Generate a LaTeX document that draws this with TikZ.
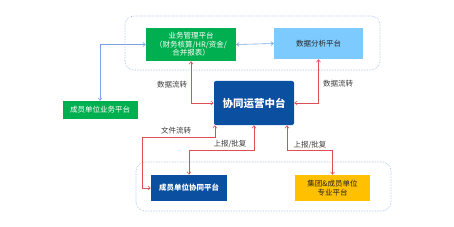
\documentclass[tikz,border=0pt]{standalone}
\usepackage{fontspec}
\setmainfont{Noto Sans CJK SC}
\usetikzlibrary{arrows.meta}
\definecolor{platgreen}{RGB}{0,176,80}
\definecolor{skyblue}{RGB}{125,202,255}
\definecolor{hubblue}{RGB}{10,79,160}
\definecolor{goldbox}{RGB}{255,192,0}
\definecolor{framblue}{RGB}{150,185,230}
\definecolor{linkblue}{RGB}{120,165,225}
\definecolor{flowred}{RGB}{220,80,85}
\definecolor{lbltext}{RGB}{60,60,60}

\begin{document}
\begin{tikzpicture}[x=1pt,y=-1pt,
    box/.style={inner sep=1pt,align=center,font=\fontsize{7.5}{8.5}\selectfont},
    frame/.style={draw=framblue,densely dotted,rounded corners=9pt,line width=0.6pt},
    flow/.style={draw=flowred,line width=0.6pt,{Straight Barb[length=2.5pt,width=4pt]}-{Straight Barb[length=2.5pt,width=4pt]}},
    link/.style={draw=linkblue,line width=0.6pt,{Straight Barb[length=2.5pt,width=4pt]}-{Straight Barb[length=2.5pt,width=4pt]}},
    lbl/.style={text=lbltext,inner sep=1pt,font=\fontsize{7.5}{8.5}\selectfont}]
      % canvas: 454 x 227, y runs downward
      \useasboundingbox (0,0) rectangle (454,227);
      % dotted frames round the two platform groups
      \draw[frame] (125,16) rectangle (380,70);
      \draw[frame] (136,162) rectangle (391,211);
      % top row
      \node[box,fill=platgreen,text=white,minimum width=90pt,minimum height=33pt] (ywgl) at (191,44.5)
        {业务管理平台\\（财务核算/HR/资金/\\合并报表）};
      \node[box,fill=skyblue,text=black!85,minimum width=89pt,minimum height=31pt] (sjfx) at (318.5,43.5) {数据分析平台};
      % left and centre
      \node[box,fill=platgreen,text=white,minimum width=75pt,minimum height=18pt] (cyyw) at (100,110) {成员单位业务平台};
      \node[box,fill=hubblue,text=white,rounded corners=2pt,minimum width=80pt,minimum height=44pt,
        font=\fontsize{10.5}{12}\selectfont\bfseries] (xtyy) at (254,103) {协同运营中台};
      % bottom row
      \node[box,fill=hubblue,text=white,minimum width=76pt,minimum height=26pt,
        font=\fontsize{7.5}{8.5}\selectfont\bfseries] (cyxt) at (189,188) {成员单位协同平台};
      \node[box,fill=goldbox,text=black!85,minimum width=75pt,minimum height=26pt] (jtzy) at (332.5,188)
        {集团\&成员单位\\专业平台};
      % blue links
      \draw[link] (cyyw.north) |- (ywgl.west);
      \draw[link] (ywgl.east) -- (sjfx.west);
      % red flows
      \draw[flow] (ywgl.south) |- (xtyy.west);
      \draw[flow] (sjfx.south) |- (xtyy.east);
      \draw[flow] ([xshift=1pt]xtyy.south west) -- ++(0,12) -| ([xshift=-9pt]cyxt.west) -- (cyxt.west);
      \draw[flow] (xtyy.south) -- ++(0,25) -| (cyxt.north);
      \draw[flow] ([xshift=33pt]xtyy.south) -- ++(0,25) -| (jtzy.north);
      % flow labels
      \node[lbl] (l1) at (172,85) {数据流转};
      \node[lbl] (l2) at (338,84) {数据流转};
      \node[lbl] (l3) at (176,131) {文件流转};
      \node[lbl] (l4) at (230,144) {上报/批复};
      \node[lbl] (l5) at (310,145) {上报/批复};
\end{tikzpicture}
\end{document}
